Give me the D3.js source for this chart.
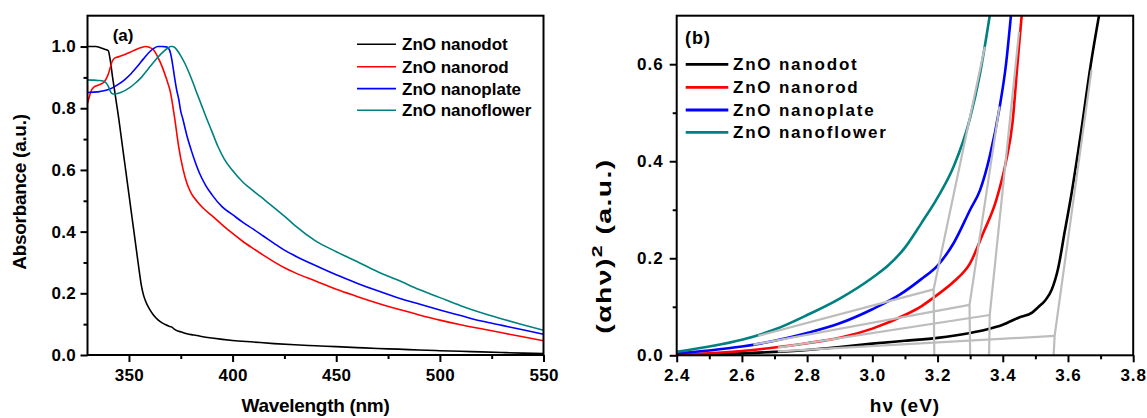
<!DOCTYPE html>
<html>
<head>
<meta charset="utf-8">
<script src="https://cdn.jsdelivr.net/npm/d3@7"></script>
<style>
  body { margin: 0; background: #fff; }
  svg text { font-family: "Liberation Sans", Arial, sans-serif; font-weight: bold; fill: #000; }
</style>
</head>
<body>
<svg id="fig" width="1147" height="418"></svg>
<script>
// ---------- Panel (a): UV-vis absorbance spectra ----------
const seriesNames = ["ZnO nanodot", "ZnO nanorod", "ZnO nanoplate", "ZnO nanoflower"];
const seriesColors = ["#000000", "#ff0000", "#0000ff", "#008080"];

const dotNm  = [330,334,336,338,340,341,342,343,344,345,346,347,348,349,350,351,352,353,354,355,356,357,358,359,360,362,364,366,368,370,371,372,374,376,378,381,385,390,400,410,420,430,440,450,460,470,480,490,500,510,520,530,540,550];
const dotAbs = [1.0,1.0,0.997,0.992,0.987,0.955,0.905,0.86,0.815,0.77,0.72,0.67,0.62,0.57,0.52,0.47,0.42,0.37,0.32,0.27,0.225,0.195,0.175,0.16,0.148,0.128,0.114,0.104,0.097,0.092,0.089,0.083,0.077,0.073,0.069,0.065,0.060,0.055,0.047,0.042,0.037,0.033,0.030,0.027,0.024,0.021,0.019,0.016,0.014,0.012,0.010,0.008,0.006,0.005];

const rodNm  = [330,331,332,333,334,336,338,339,340,341,342,343,344,346,348,350,352,354,356,358,360,362,364,366,368,370,372,374,376,378,380,383,386,390,395,400,405,410,415,420,425,430,440,450,460,470,480,490,500,510,520,530,540,550];
const rodAbs = [0.816,0.84,0.86,0.868,0.872,0.877,0.885,0.895,0.91,0.932,0.953,0.962,0.965,0.969,0.974,0.98,0.986,0.992,0.997,1.0,0.997,0.988,0.965,0.935,0.897,0.852,0.77,0.675,0.605,0.556,0.525,0.497,0.475,0.452,0.422,0.394,0.368,0.345,0.323,0.302,0.283,0.267,0.24,0.213,0.19,0.168,0.148,0.13,0.113,0.098,0.085,0.072,0.059,0.046];

const plateNm  = [330,335,339,342,345,348,351,354,357,360,362,364,366,368,369,370,371,372,373,374,375,376,378,380,382,384,387,390,395,400,405,410,415,420,425,430,440,450,460,470,480,490,500,510,520,530,540,550];
const plateAbs = [0.851,0.853,0.858,0.866,0.878,0.893,0.912,0.935,0.96,0.983,0.994,1.0,1.0,0.999,0.995,0.98,0.945,0.9,0.86,0.83,0.79,0.765,0.71,0.665,0.625,0.59,0.55,0.52,0.48,0.455,0.43,0.408,0.385,0.362,0.34,0.322,0.29,0.26,0.233,0.208,0.185,0.165,0.146,0.128,0.11,0.096,0.082,0.067];

const flowerNm  = [330,333,335,337,339,340,341,342,343,344,346,348,350,353,356,359,362,365,367,369,370,371,372,373,375,377,379,381,383,385,387,390,393,396,400,405,410,415,420,425,430,440,450,460,470,480,490,500,510,520,530,540,550];
const flowerAbs = [0.892,0.891,0.89,0.889,0.882,0.872,0.855,0.847,0.846,0.847,0.851,0.857,0.865,0.881,0.9,0.925,0.95,0.973,0.986,0.996,1.0,1.0,0.997,0.99,0.97,0.945,0.915,0.881,0.845,0.81,0.775,0.725,0.675,0.635,0.598,0.56,0.532,0.505,0.478,0.45,0.42,0.37,0.335,0.303,0.27,0.242,0.212,0.186,0.16,0.137,0.117,0.098,0.08];

const wlMajor = [350, 400, 450, 500, 550];
const wlMinor = [375, 425, 475, 525];
const absMajor = [0.0, 0.2, 0.4, 0.6, 0.8, 1.0];
const absMinor = [0.1, 0.3, 0.5, 0.7, 0.9];

// ---------- Panel (b): Tauc plot ----------
const dotEv    = [2.4,2.5,2.6,2.7,2.8,2.9,3.0,3.1,3.2,3.3,3.35,3.4,3.45,3.49,3.51,3.53,3.55,3.57,3.59,3.61,3.64,3.67,3.695];
const dotTauc  = [0.0,0.002,0.004,0.007,0.011,0.017,0.024,0.03,0.036,0.046,0.053,0.063,0.078,0.088,0.1,0.113,0.135,0.18,0.255,0.33,0.46,0.6,0.7];
const rodEv    = [2.4,2.5,2.6,2.7,2.8,2.9,3.0,3.1,3.15,3.2,3.25,3.3,3.34,3.38,3.41,3.43,3.445,3.458];
const rodTauc  = [0.001,0.004,0.009,0.016,0.025,0.036,0.055,0.083,0.101,0.125,0.152,0.19,0.252,0.32,0.40,0.48,0.6,0.7];
const plateEv   = [2.4,2.5,2.6,2.7,2.8,2.9,3.0,3.084,3.15,3.2,3.25,3.3,3.33,3.36,3.39,3.41,3.425];
const plateTauc = [0.004,0.01,0.018,0.03,0.046,0.066,0.095,0.125,0.157,0.185,0.232,0.3,0.34,0.41,0.51,0.6,0.7];
const flowerEv   = [2.4,2.5,2.6,2.7,2.8,2.9,3.0,3.05,3.1,3.15,3.2,3.25,3.3,3.33,3.36];
const flowerTauc = [0.007,0.018,0.032,0.053,0.083,0.117,0.16,0.186,0.222,0.272,0.325,0.39,0.49,0.58,0.7];

// band-gap construction: tangent top point, intersection, axis point, baseline start (dot, rod, plate, flower)
const fitTopEv   = [3.672, 3.45, 3.39, 3.345];
const fitTopY    = [0.588, 0.667, 0.513, 0.636];
const fitCrossEv = [3.559, 3.36, 3.298, 3.188];
const fitCrossY  = [0.040, 0.083, 0.104, 0.136];
const gapEv      = [3.556, 3.358, 3.30, 3.19];
const baseStartEv = [2.71, 2.71, 2.635, 2.65];
const baseStartY  = [0.008, 0.016, 0.022, 0.040];

const evMajor = [2.4, 2.6, 2.8, 3.0, 3.2, 3.4, 3.6, 3.8];
const evMinor = [2.5, 2.7, 2.9, 3.1, 3.3, 3.5, 3.7];
const taucMajor = [0.0, 0.2, 0.4, 0.6];
const taucMinor = [0.1, 0.3, 0.5];

// ---------- drawing ----------
const svg = d3.select("#fig");
svg.append("rect").attr("width", 1147).attr("height", 418).attr("fill", "#fff");

function axes(g, x, y, o) {
  const [x0, x1] = x.range();
  const [yb, yt] = y.range();
  const styleAxis = s => {
    s.select(".domain").remove();
    s.attr("font-family", null).attr("font-size", null);
    s.selectAll("line").attr("stroke", "#000").attr("stroke-width", 2);
    s.selectAll("text").style("font-size", o.tickFont + "px").style("letter-spacing", o.tickSpacing + "px");
  };
  g.append("g").attr("transform", `translate(0,${yb})`)
    .call(d3.axisBottom(x).tickValues(o.xMinor).tickSize(4).tickFormat("")).call(styleAxis);
  g.append("g").attr("transform", `translate(0,${yb})`)
    .call(d3.axisBottom(x).tickValues(o.xMajor).tickSize(7).tickPadding(7).tickFormat(o.xFmt)).call(styleAxis);
  g.append("g").attr("transform", `translate(${x0},0)`)
    .call(d3.axisLeft(y).tickValues(o.yMinor).tickSize(4).tickFormat("")).call(styleAxis);
  g.append("g").attr("transform", `translate(${x0},0)`)
    .call(d3.axisLeft(y).tickValues(o.yMajor).tickSize(7).tickPadding(o.yPad).tickFormat(d3.format(".1f"))).call(styleAxis);
  g.append("rect").attr("x", x0).attr("y", yt).attr("width", x1 - x0).attr("height", yb - yt)
    .attr("fill", "none").attr("stroke", "#000").attr("stroke-width", 2);
}

function legend(g, xs, ys, o) {
  seriesNames.forEach((name, i) => {
    const yy = ys[i];
    g.append("line").attr("x1", xs[0]).attr("x2", xs[1]).attr("y1", yy).attr("y2", yy)
      .attr("stroke", seriesColors[i]).attr("stroke-width", o.width);
    g.append("text").attr("x", xs[2]).attr("y", yy + 6).text(name)
      .style("font-size", o.font + "px").style("letter-spacing", o.spacing + "px");
  });
}

// Panel (a)
{
  const x = d3.scaleLinear().domain([330, 550]).range([87.5, 543.5]);
  const y = d3.scaleLinear().domain([0, 1.1]).range([355, 15.7]);
  const g = svg.append("g");
  g.append("clipPath").attr("id", "clipA").append("rect")
    .attr("x", 87.5).attr("y", 15.7).attr("width", 456).attr("height", 339.3);
  const line = d3.line().x(d => x(d[0])).y(d => y(d[1])).curve(d3.curveMonotoneX);
  const sets = [[dotNm, dotAbs], [rodNm, rodAbs], [plateNm, plateAbs], [flowerNm, flowerAbs]];
  sets.forEach((s, i) => {
    const pts = s[0].map((v, k) => [v, s[1][k]]);
    g.append("path").attr("d", line(pts)).attr("fill", "none")
      .attr("stroke", seriesColors[i]).attr("stroke-width", 1.6).attr("clip-path", "url(#clipA)");
  });
  axes(g, x, y, { xMajor: wlMajor, xMinor: wlMinor, yMajor: absMajor, yMinor: absMinor,
    xFmt: d3.format("d"), tickFont: 17, tickSpacing: 0.3, yPad: 4.5 });
  legend(g, [357, 396, 402], [44.3, 66.7, 88.6, 110.2], { width: 1.6, font: 17, spacing: 0 });
  g.append("text").attr("x", 112.7).attr("y", 41).text("(a)").style("font-size", "17px");
  g.append("text").attr("x", 315.5).attr("y", 412).attr("text-anchor", "middle")
    .text("Wavelength (nm)").style("font-size", "19px").style("letter-spacing", "-0.3px");
  g.append("text").attr("transform", "translate(26,192) rotate(-90)").attr("text-anchor", "middle")
    .text("Absorbance (a.u.)").style("font-size", "19px").style("letter-spacing", "-0.3px");
}

// Panel (b)
{
  const x = d3.scaleLinear().domain([2.4, 3.8]).range([676.7, 1133.2]);
  const y = d3.scaleLinear().domain([0, 0.7]).range([355.3, 15.7]);
  const g = svg.append("g");
  g.append("clipPath").attr("id", "clipB").append("rect")
    .attr("x", 676.7).attr("y", 15.7).attr("width", 456.5).attr("height", 339.6);
  const line = d3.line().x(d => x(d[0])).y(d => y(d[1])).curve(d3.curveMonotoneX);
  const sets = [[dotEv, dotTauc], [rodEv, rodTauc], [plateEv, plateTauc], [flowerEv, flowerTauc]];
  sets.forEach((s, i) => {
    const pts = s[0].map((v, k) => [v, s[1][k]]);
    g.append("path").attr("d", line(pts)).attr("fill", "none")
      .attr("stroke", seriesColors[i]).attr("stroke-width", 2.6).attr("clip-path", "url(#clipB)");
  });
  // tangent and baseline construction lines
  const seg = d3.line().x(d => x(d[0])).y(d => y(d[1]));
  fitTopEv.forEach((_, i) => {
    const paths = [
      [[fitTopEv[i], fitTopY[i]], [fitCrossEv[i], fitCrossY[i]], [gapEv[i], 0]],
      [[baseStartEv[i], baseStartY[i]], [fitCrossEv[i], fitCrossY[i]]]
    ];
    paths.forEach(p => g.append("path").attr("d", seg(p)).attr("fill", "none")
      .attr("stroke", "#bdbdbd").attr("stroke-width", 2.2).attr("stroke-linejoin", "round"));
  });
  axes(g, x, y, { xMajor: evMajor, xMinor: evMinor, yMajor: taucMajor, yMinor: taucMinor,
    xFmt: d3.format(".1f"), tickFont: 17, tickSpacing: 1, yPad: 6 });
  legend(g, [685.7, 728.3, 733], [64.3, 87.3, 110, 132.3], { width: 2.8, font: 17, spacing: 1.8 });
  g.append("text").attr("x", 685).attr("y", 44).text("(b)").style("font-size", "18px").style("letter-spacing", "1px");
  g.append("text").attr("x", 905).attr("y", 412).attr("text-anchor", "middle")
    .text("hν (eV)").style("font-size", "19px").style("letter-spacing", "1px");
  const t = g.append("text").attr("transform", "translate(611,246) rotate(-90) scale(1.42,1)").attr("text-anchor", "middle")
    .style("font-size", "20px").style("letter-spacing", "1px");
  t.append("tspan").text("(αhν)");
  t.append("tspan").attr("dy", -9).style("font-size", "15px").text("2");
  t.append("tspan").attr("dy", 9).text(" (a.u.)");
}
</script>
</body>
</html>
